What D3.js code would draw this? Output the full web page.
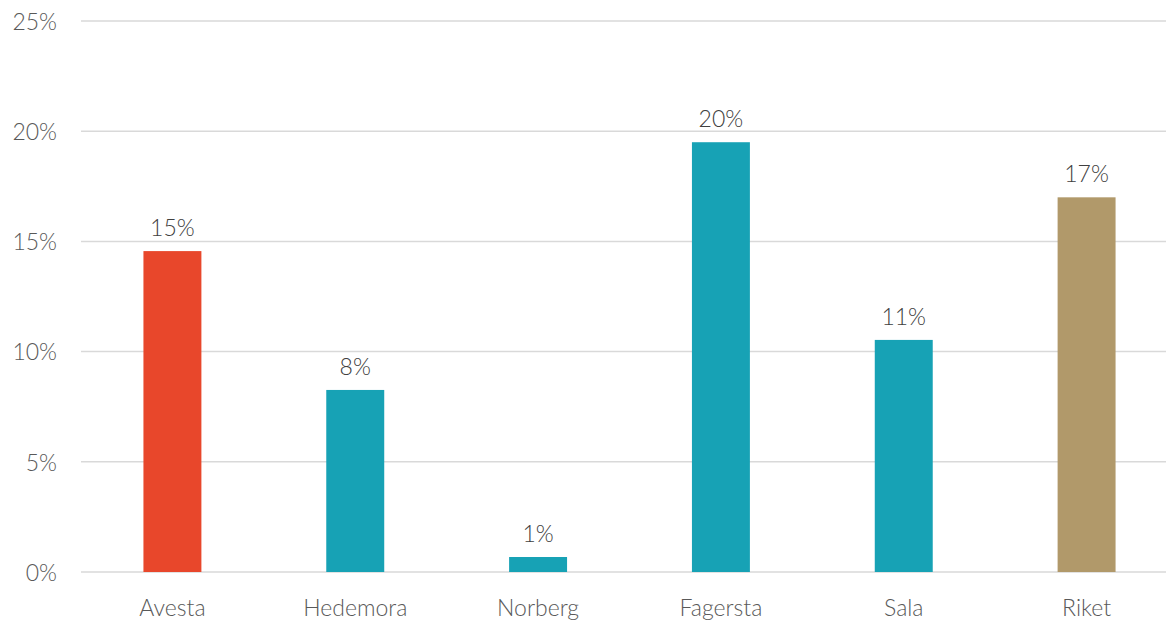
<!DOCTYPE html>
<html>
<head>
<meta charset="utf-8">
<script src="https://cdn.jsdelivr.net/npm/d3@7"></script>
<style>
  html, body { margin: 0; padding: 0; background: #fff; }
  svg { display: block; }
  text { font-family: Lato, "Open Sans", sans-serif; font-weight: 300; }
</style>
</head>
<body>
<svg id="chart" width="1166" height="620"></svg>
<script>
const categories = ["Avesta", "Hedemora", "Norberg", "Fagersta", "Sala", "Riket"];
const values = [0.1456, 0.0826, 0.0068, 0.195, 0.1053, 0.170];
const valueLabels = ["15%", "8%", "1%", "20%", "11%", "17%"];
const barColors = ["#E8472B", "#17A2B5", "#17A2B5", "#17A2B5", "#17A2B5", "#B1996A"];
const yTicks = [0, 0.05, 0.10, 0.15, 0.20, 0.25];

const svg = d3.select("#chart");
const W = 1166, H = 620;
const x0 = 81, x1 = 1178, yTop = 21, yBottom = 572;

const x = d3.scaleBand().domain(categories).range([x0, x1])
  .paddingInner(0.683).paddingOuter(0.3415);
const y = d3.scaleLinear().domain([0, 0.25]).range([yBottom, yTop]);

// gridlines
svg.append("g").selectAll("line").data(yTicks).join("line")
  .attr("x1", x0).attr("x2", W)
  .attr("y1", d => y(d)).attr("y2", d => y(d))
  .attr("stroke", "#d9d9d9").attr("stroke-width", 1.5);

// y axis labels
const yAxis = d3.axisLeft(y).tickValues(yTicks).tickSize(0).tickPadding(0)
  .tickFormat(d => Math.round(d * 100) + "%");
const gy = svg.append("g").attr("transform", "translate(57,0)").call(yAxis);
gy.select(".domain").remove();
gy.selectAll("text").attr("font-size", 23).attr("font-family", null).attr("dy", "0.36em").attr("fill", "#595959");

// bars
svg.append("g").selectAll("rect").data(categories).join("rect")
  .attr("x", d => x(d)).attr("width", x.bandwidth())
  .attr("y", (d, i) => y(values[i]))
  .attr("height", (d, i) => y(0) - y(values[i]))
  .attr("fill", (d, i) => barColors[i]);

// value labels
svg.append("g").selectAll("text").data(categories).join("text")
  .attr("x", d => x(d) + x.bandwidth() / 2)
  .attr("y", (d, i) => y(values[i]) - 15)
  .attr("text-anchor", "middle").attr("font-size", 23)
  .attr("fill", "#404040")
  .text((d, i) => valueLabels[i]);

// x axis labels
const xAxis = d3.axisBottom(x).tickSize(0).tickPadding(0);
const gx = svg.append("g").attr("transform", `translate(0,${yBottom})`).call(xAxis);
gx.select(".domain").remove();
gx.selectAll("text").attr("font-size", 23).attr("font-family", null).attr("fill", "#595959")
  .attr("y", 44).attr("dy", 0);
</script>
</body>
</html>
